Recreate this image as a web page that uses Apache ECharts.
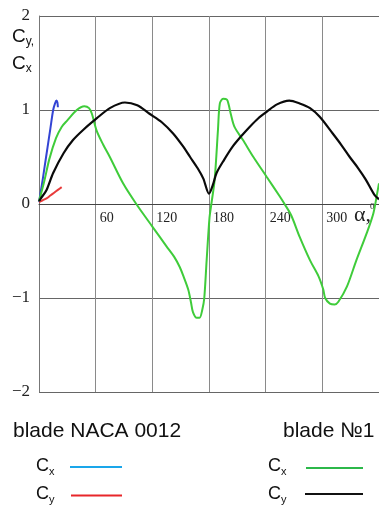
<!DOCTYPE html>
<html>
<head>
<meta charset="utf-8">
<style>
  html, body { margin: 0; padding: 0; background: #fff; }
  #chart { width: 379px; height: 506px; }
</style>
<script src="https://cdn.jsdelivr.net/npm/echarts@6/dist/echarts.min.js"></script>
</head>
<body>
<div id="chart"></div>
<script>
// angle of attack (deg) and coefficients
var nacaCxAlpha = [0, 3, 6, 9, 12, 15, 17, 18.5, 19.5, 20]
var nacaCx = [0.02, 0.2, 0.4, 0.6, 0.8, 1.0, 1.07, 1.1, 1.08, 1.03]

var nacaCyAlpha = [0, 4, 8, 12, 16, 20, 24]
var nacaCy = [0.02, 0.04, 0.06, 0.09, 0.12, 0.15, 0.18]

var no1CxAlpha = [0, 3, 6, 11, 18, 24, 30, 40, 48, 53, 56, 61, 68, 75, 89, 103, 120, 135, 143, 149, 153,
  158, 161, 163, 167, 170, 173, 175, 177.5, 180.5, 182.5, 186, 189.5, 191.5, 195, 199, 201, 203, 207,
  216, 227, 241, 255, 260, 267, 276, 287, 296, 301, 303, 308, 313, 317, 326, 336, 347, 354, 358, 360]
var no1Cx = [0.03, 0.14, 0.26, 0.48, 0.70, 0.82, 0.89, 1.0, 1.04, 1.02, 0.96, 0.78, 0.63, 0.5, 0.22, 0, -0.24, -0.45, -0.56, -0.67, -0.77,
  -0.91, -1.05, -1.15, -1.21, -1.21, -1.12, -1.0, -0.6, -0.15, 0.0, 0.26, 0.79, 1.07, 1.12, 1.11, 1.05, 0.96, 0.82,
  0.68, 0.5, 0.29, 0.08, 0, -0.12, -0.35, -0.6, -0.77, -0.91, -1.0, -1.06, -1.07, -1.04, -0.88, -0.6, -0.31, -0.1, 0.11, 0.22]

var no1CyAlpha = [0, 2, 8, 15, 26, 36, 47, 61, 75, 91, 104, 117, 130, 142, 152, 160, 168, 174, 180,
  184, 188, 196, 205, 214, 223, 232, 241, 252, 265, 276, 287, 297, 311, 320, 329, 338, 346, 355, 360]
var no1Cy = [0.03, 0.06, 0.15, 0.33, 0.54, 0.68, 0.79, 0.91, 1.02, 1.08, 1.05, 0.96, 0.87, 0.75, 0.62, 0.5, 0.38, 0.27, 0.11,
  0.2, 0.33, 0.47, 0.61, 0.72, 0.82, 0.91, 0.98, 1.06, 1.1, 1.07, 1.02, 0.93, 0.75, 0.63, 0.5, 0.38, 0.26, 0.1, 0.05]

var xTicks = ['60', '120', '180', '240', '300']

function pairs(xs, ys) {
  return xs.map(function(x, i) { return [x, ys[i]] })
}

var chart = echarts.init(document.getElementById('chart'))

var serif = '"Liberation Serif", "DejaVu Serif", serif'
var sans = '"Liberation Sans", Arial, sans-serif'

function legendLine(x1, x2, y, color) {
  return {
    type: 'line',
    shape: { x1: x1, y1: y, x2: x2, y2: y },
    style: { stroke: color, lineWidth: 2 }
  }
}

function coefLabel(x, y, sub, size) {
  return {
    type: 'text',
    left: x,
    top: y,
    style: {
      text: '{c|C}{s|' + sub + '}',
      rich: {
        c: { fontFamily: sans, fontSize: size, fill: '#111', verticalAlign: 'bottom' },
        s: { fontFamily: sans, fontSize: Math.round(size * 0.62), fill: '#111', verticalAlign: 'bottom', padding: [0, 0, -2, 0] }
      }
    }
  }
}

chart.setOption({
  animation: false,
  backgroundColor: '#fff',
  grid: {
    left: 39,
    top: 16,
    right: 0,
    bottom: 114,
    outerBoundsMode: 'none',
    containLabel: false,
    show: false
  },
  xAxis: {
    type: 'value',
    min: 0,
    max: 360,
    interval: 60,
    offset: -188,
    axisLine: { onZero: false, lineStyle: { color: '#444', width: 1 } },
    axisTick: { show: false },
    axisLabel: {
      align: 'left',
      margin: 7,
      padding: [0, 0, 0, 4],
      fontFamily: serif,
      fontSize: 14,
      color: '#222',
      formatter: function(v) {
        var s = String(v)
        return xTicks.indexOf(s) >= 0 ? s : ''
      }
    },
    splitLine: { show: true, lineStyle: { color: '#8a8a8a', width: 1 } }
  },
  yAxis: {
    type: 'value',
    min: -2,
    max: 2,
    interval: 1,
    axisLine: { show: true, onZero: false, lineStyle: { color: '#777' } },
    axisTick: { show: false },
    axisLabel: {
      margin: 9,
      fontFamily: serif,
      fontSize: 17,
      color: '#222',
      formatter: function(v) { return String(v).replace('-', '\u2212') }
    },
    splitLine: { show: true, lineStyle: { color: '#666', width: 1 } }
  },
  series: [
    {
      name: 'NACA Cx', type: 'line', data: pairs(nacaCxAlpha, nacaCx),
      showSymbol: false, smooth: 0.3, lineStyle: { color: '#3344d4', width: 2 }
    },
    {
      name: 'NACA Cy', type: 'line', data: pairs(nacaCyAlpha, nacaCy),
      showSymbol: false, smooth: 0.3, lineStyle: { color: '#e83a3a', width: 2 }
    },
    {
      name: 'No1 Cx', type: 'line', data: pairs(no1CxAlpha, no1Cx),
      showSymbol: false, smooth: 0.3, lineStyle: { color: '#3fcc3a', width: 2 }
    },
    {
      name: 'No1 Cy', type: 'line', data: pairs(no1CyAlpha, no1Cy),
      showSymbol: false, smooth: 0.3, lineStyle: { color: '#0a0a0a', width: 2.2 }
    }
  ],
  graphic: [
    // y axis title
    coefLabel(12, 27, 'y,', 19),
    coefLabel(12, 54, 'x', 19),
    // x axis title
    {
      type: 'text', left: 354, top: 204,
      style: { text: '\u03b1,', fontFamily: serif, fontSize: 22, fill: '#222' }
    },
    {
      type: 'text', left: 370, top: 202,
      style: { text: '0', fontFamily: serif, fontSize: 9, fill: '#222' }
    },
    // legend
    {
      type: 'text', left: 13, top: 421,
      style: { text: 'blade NACA 0012', fontFamily: sans, fontSize: 21, fill: '#111' }
    },
    {
      type: 'text', left: 283, top: 421,
      style: { text: 'blade \u21161', fontFamily: sans, fontSize: 21, fill: '#111' }
    },
    coefLabel(36, 457, 'x', 18),
    coefLabel(36, 485, 'y', 18),
    coefLabel(268, 457, 'x', 18),
    coefLabel(268, 485, 'y', 18),
    legendLine(70, 122, 467, '#1aa6ea'),
    legendLine(71, 122, 495.5, '#e8262a'),
    legendLine(306, 363, 468, '#2cb84a'),
    legendLine(305, 363, 494, '#111')
  ]
})
</script>
</body>
</html>
